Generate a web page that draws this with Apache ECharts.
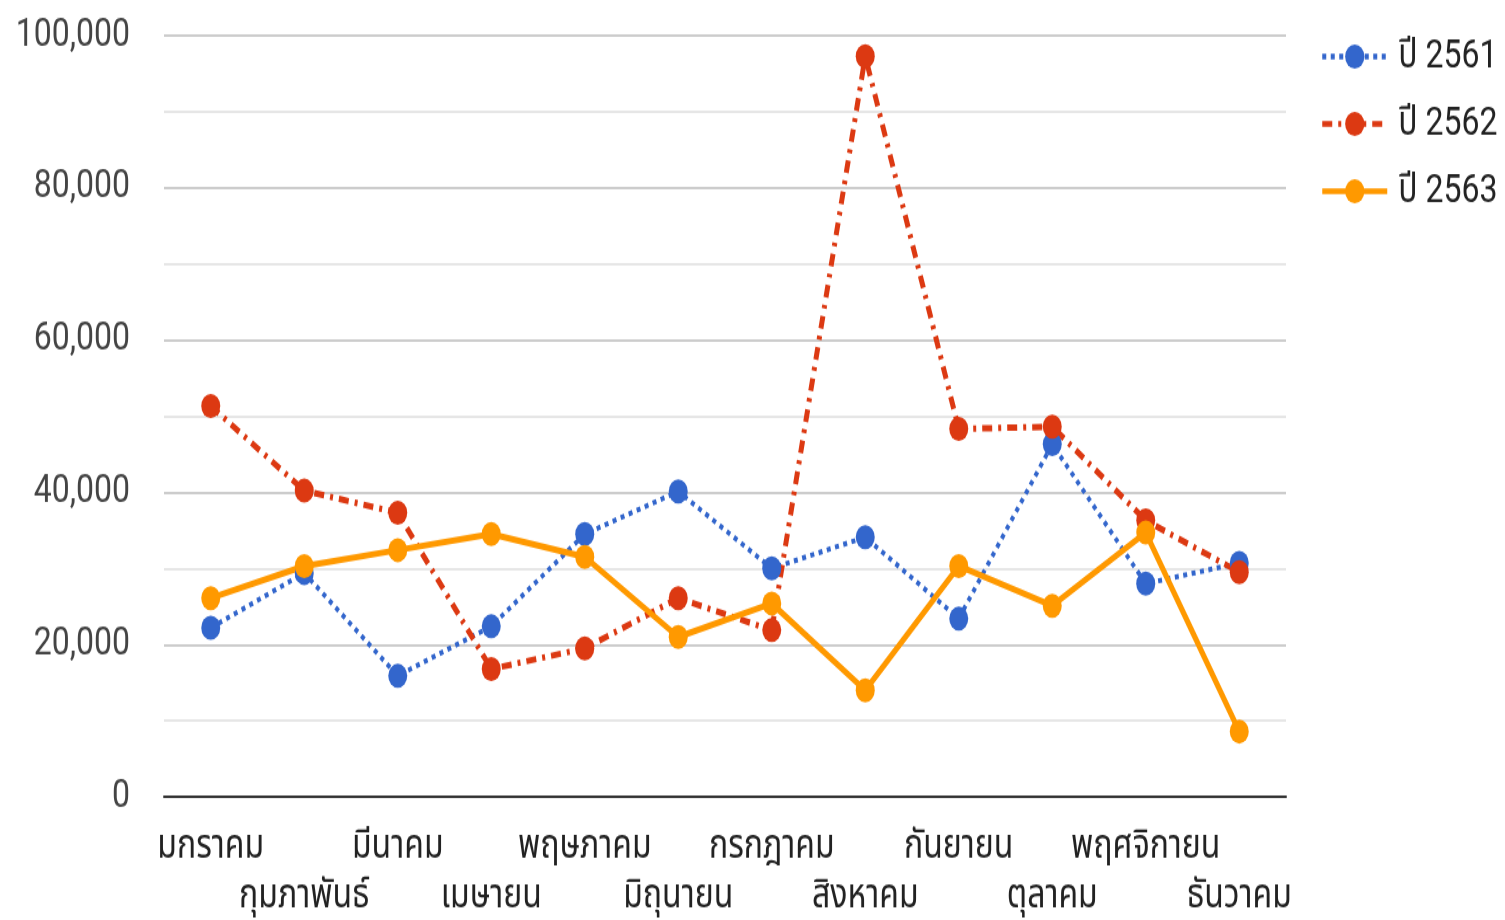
<!DOCTYPE html>
<html>
<head>
<meta charset="utf-8">
<script src="https://cdn.jsdelivr.net/npm/echarts@6/dist/echarts.min.js"></script>
<style>
  html { margin: 0; padding: 0; background: #fff; overflow: hidden; }
  body { margin: 0; padding: 0; background: #fff; width: 1505px; height: 920px; }
  /* the chart is laid out on a shorter canvas and stretched to full height */
  #chart { width: 1505px; height: 724px; transform: scaleY(1.2707); transform-origin: 0 0; }
</style>
</head>
<body>
<div id="chart"></div>
<script>
// Monthly figures for three Buddhist-era years
const months = ['มกราคม', 'กุมภาพันธ์', 'มีนาคม', 'เมษายน', 'พฤษภาคม', 'มิถุนายน',
                'กรกฎาคม', 'สิงหาคม', 'กันยายน', 'ตุลาคม', 'พฤศจิกายน', 'ธันวาคม'];
const seriesNames = ['ปี 2561', 'ปี 2562', 'ปี 2563'];
const year2561 = [22200, 29400, 15900, 22400, 34500, 40100, 30000, 34100, 23400, 46300, 28000, 30700];
const year2562 = [51300, 40200, 37300, 16800, 19500, 26100, 21900, 97200, 48300, 48600, 36300, 29500];
const year2563 = [26100, 30300, 32400, 34500, 31500, 21000, 25400, 14000, 30300, 25100, 34700, 8600];
const yTicks = [0, 20000, 40000, 60000, 80000, 100000];

const FONT = 'Roboto, "Noto Sans Thai", "Noto Sans Thai UI", "Noto Sans", sans-serif';
const colors = ['#3366cc', '#dc3912', '#ff9900'];

function lineSeries(name, data, color, width, dash) {
  return {
    name: name,
    type: 'line',
    data: data,
    symbol: 'circle',
    symbolSize: 19,
    itemStyle: { color: color },
    lineStyle: { color: color, width: width, type: dash },
    z: 2
  };
}

const chart = echarts.init(document.getElementById('chart'), null, { renderer: 'canvas' });
chart.setOption({
  animation: false,
  textStyle: { fontFamily: FONT },
  color: colors,
  grid: { left: 164, right: 219, top: 27.5, bottom: 96.8, containLabel: false, outerBoundsMode: 'none' },
  legend: {
    orient: 'vertical',
    left: 1315,
    top: 23.5,
    itemGap: 21,
    itemWidth: 65,
    itemHeight: 24,
    lineStyle: { width: 4.5 },
    textStyle: { fontFamily: FONT, fontSize: 32, lineHeight: 24, color: '#222', padding: [0, 0, 0, 6] },
    data: seriesNames
  },
  xAxis: {
    type: 'category',
    data: months,
    boundaryGap: true,
    axisLine: { show: true, lineStyle: { color: '#333', width: 2 } },
    axisTick: { show: false },
    axisLabel: {
      interval: 0,
      margin: 19.6,
      fontFamily: FONT,
      fontSize: 32,
      lineHeight: 39.4,
      color: '#222',
      formatter: (v, i) => (i % 2 ? '\n' + v : v)
    }
  },
  yAxis: {
    type: 'value',
    min: yTicks[0],
    max: yTicks[yTicks.length - 1],
    interval: yTicks[1] - yTicks[0],
    axisLine: { show: false },
    axisTick: { show: false },
    axisLabel: {
      margin: 34,
      fontFamily: FONT,
      fontSize: 32,
      color: '#444',
      formatter: v => v.toLocaleString('en-US')
    },
    splitLine: { show: true, lineStyle: { color: '#cccccc', width: 2 } },
    minorTick: { show: false, splitNumber: 2 },
    minorSplitLine: { show: true, lineStyle: { color: '#e6e6e6', width: 2 } }
  },
  series: [
    lineSeries(seriesNames[0], year2561, colors[0], 4, [4, 4.5]),
    lineSeries(seriesNames[1], year2562, colors[1], 5, [10, 6, 3, 6]),
    lineSeries(seriesNames[2], year2563, colors[2], 5, 'solid')
  ]
});
</script>
</body>
</html>
